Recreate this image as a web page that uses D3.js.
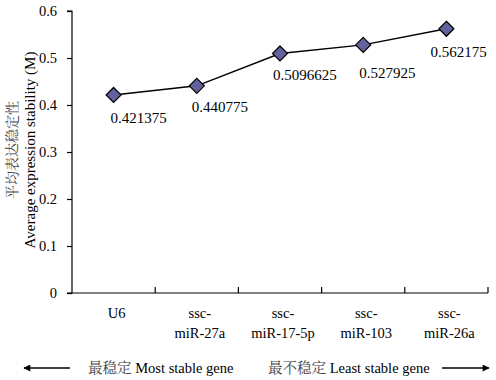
<!DOCTYPE html>
<html>
<head>
<meta charset="utf-8">
<script src="https://cdn.jsdelivr.net/npm/d3@7"></script>
<style>
  html, body { margin: 0; padding: 0; background: #fff; }
  svg { display: block; }
</style>
</head>
<body>
<svg id="chart" width="496" height="380"></svg>
<script>
// ---- data ----
const categories = ["U6", "ssc-\nmiR-27a", "ssc-\nmiR-17-5p", "ssc-\nmiR-103", "ssc-\nmiR-26a"];
const stability = [0.421375, 0.440775, 0.5096625, 0.527925, 0.562175];
const valueLabels = ["0.421375", "0.440775", "0.5096625", "0.527925", "0.562175"];
const yTicks = [0, 0.1, 0.2, 0.3, 0.4, 0.5, 0.6];
const yTitle = ["平均表达稳定性", "Average expression stability (M)"];
const bottomNotesCn = ["最稳定", "最不稳定"];
const bottomNotesEn = ["Most stable gene", "Least stable gene"];

// label placement relative to markers (layout only)
const labelOffsets = [[-3, 28], [-5, 26], [-7, 27], [-4, 33], [-16, 28]];

const SERIF = "'Liberation Serif', 'Times New Roman', 'Noto Serif CJK SC', serif";
const CJK = "'Noto Serif CJK SC', 'Noto Sans CJK SC', serif";

const svg = d3.select("#chart").style("font-family", SERIF);
const mLeft = 72, mRight = 488, mTop = 11, mBottom = 293;

const x = d3.scaleBand().domain(categories).range([mLeft, mRight]).padding(0);
const y = d3.scaleLinear().domain([0, 0.6]).range([mBottom, mTop]);

// y axis
const yAxis = svg.append("g").attr("transform", `translate(${mLeft},0)`)
  .call(d3.axisLeft(y).tickValues(yTicks).tickSize(5).tickPadding(10)
    .tickFormat(d => d === 0 ? "0" : d3.format(".1f")(d)));
yAxis.attr("font-family", null).attr("font-size", null);
yAxis.select(".domain").attr("d", `M-5,${mTop}H0V${mBottom}H-5`).attr("stroke", "#000").attr("stroke-width", 1.2);
yAxis.selectAll(".tick line").attr("stroke", "#000").attr("stroke-width", 1.2);
yAxis.selectAll(".tick text").style("font-family", SERIF).style("font-size", "14.5px").attr("fill", "#000");

// x axis
const xAxis = svg.append("g").attr("transform", `translate(0,${mBottom})`);
xAxis.append("line").attr("x1", mLeft).attr("x2", mRight).attr("y1", 0).attr("y2", 0)
  .attr("stroke", "#000").attr("stroke-width", 1.2);
xAxis.selectAll("line.tk").data(categories).enter().append("line")
  .attr("class", "tk")
  .attr("x1", d => x(d) + x.bandwidth()).attr("x2", d => x(d) + x.bandwidth())
  .attr("y1", 0).attr("y2", -6).attr("stroke", "#000").attr("stroke-width", 1.2);
const xl = xAxis.selectAll("text.cat").data(categories).enter().append("text")
  .attr("class", "cat")
  .attr("text-anchor", "middle")
  .style("font-family", SERIF).style("font-size", "14.5px")
  .attr("fill", "#000");
xl.each(function(d) {
  const lines = d.split("\n");
  const t = d3.select(this);
  lines.forEach((ln, i) => {
    t.append("tspan").attr("x", x(d) + x.bandwidth() / 2 + 3).attr("y", 25 + i * 20).text(ln);
  });
});

// line
const pts = categories.map((c, i) => [x(c) + x.bandwidth() / 2, y(stability[i])]);
svg.append("path").datum(pts)
  .attr("d", d3.line())
  .attr("fill", "none").attr("stroke", "#000").attr("stroke-width", 1.5);

// markers
const r = 7.5;
svg.selectAll("path.mk").data(pts).enter().append("path")
  .attr("class", "mk")
  .attr("d", d => `M${d[0]},${d[1] - r}L${d[0] + r},${d[1]}L${d[0]},${d[1] + r}L${d[0] - r},${d[1]}Z`)
  .attr("fill", "#62629c").attr("stroke", "#000").attr("stroke-width", 1.2);

// value labels
svg.selectAll("text.val").data(valueLabels).enter().append("text")
  .attr("class", "val")
  .attr("x", (d, i) => pts[i][0] + labelOffsets[i][0])
  .attr("y", (d, i) => pts[i][1] + labelOffsets[i][1])
  .style("font-family", SERIF).style("font-size", "15px").attr("fill", "#000")
  .text(d => d);

// y title
const yt = svg.append("text")
  .attr("transform", `translate(0,150) rotate(-90)`)
  .attr("text-anchor", "middle");
yt.append("tspan").attr("x", 0).attr("y", 17).style("font-size", "14px")
  .style("font-family", CJK).attr("fill", "#444").text(yTitle[0]);
yt.append("tspan").attr("x", 0).attr("y", 35).style("font-size", "15px")
  .style("font-family", SERIF).attr("fill", "#000").text(yTitle[1]);

// bottom notes with arrows
const defs = svg.append("defs");
defs.append("marker").attr("id", "ah").attr("viewBox", "0 0 10 10")
  .attr("refX", 9).attr("refY", 5).attr("markerWidth", 10).attr("markerHeight", 7)
  .attr("markerUnits", "userSpaceOnUse").attr("orient", "auto")
  .append("path").attr("d", "M0,0L10,5L0,10Z").attr("fill", "#000");

svg.append("line").attr("x1", 70).attr("x2", 24).attr("y1", 368).attr("y2", 368)
  .attr("stroke", "#000").attr("stroke-width", 1.5).attr("marker-end", "url(#ah)");
svg.append("line").attr("x1", 442).attr("x2", 489).attr("y1", 368).attr("y2", 368)
  .attr("stroke", "#000").attr("stroke-width", 1.5).attr("marker-end", "url(#ah)");

[88, 268].forEach((xx, i) => {
  const t = svg.append("text").attr("x", xx).attr("y", 373).style("font-size", "14.5px");
  t.append("tspan").style("font-family", CJK).attr("fill", "#444").text(bottomNotesCn[i] + " ");
  t.append("tspan").style("font-family", SERIF).attr("fill", "#000").text(bottomNotesEn[i]);
});
</script>
</body>
</html>
